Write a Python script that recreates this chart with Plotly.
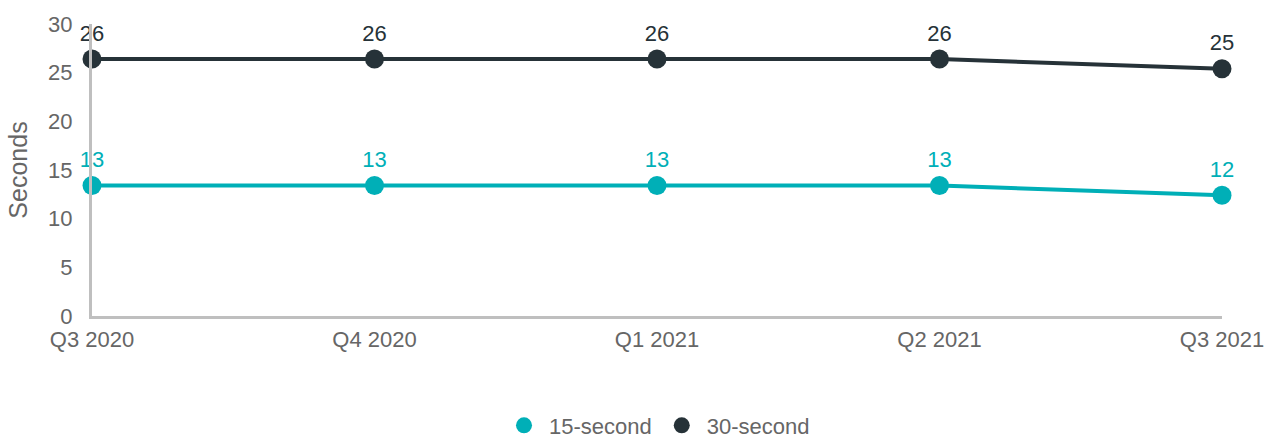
import plotly.graph_objects as go

quarters = ["Q3 2020", "Q4 2020", "Q1 2021", "Q2 2021", "Q3 2021"]
sec15 = [13.4, 13.4, 13.4, 13.4, 12.4]
sec30 = [26.4, 26.4, 26.4, 26.4, 25.4]
y_ticks = [0, 5, 10, 15, 20, 25, 30]

TEAL = "#00AFB7"
DARK = "#263238"
GREY = "#666666"
FONT = "Liberation Sans, Arial, sans-serif"

fig = go.Figure()

for name, vals, color in [("15-second", sec15, TEAL), ("30-second", sec30, DARK)]:
    fig.add_trace(go.Scatter(
        x=quarters, y=vals, name=name,
        mode="lines+markers+text",
        line=dict(color=color, width=4),
        marker=dict(color=color, size=19),
        texttemplate="%{y:.0f}",
        textposition="top center",
        textfont=dict(color=color, size=22, family=FONT),
        cliponaxis=False,
        showlegend=False,
        legendgroup=name,
    ))
    # legend entry drawn as a plain dot
    fig.add_trace(go.Scatter(
        x=[None], y=[None], name=name, mode="markers",
        marker=dict(color=color, size=26),
        showlegend=True, legendgroup=name,
    ))

fig.update_layout(
    width=1279, height=440,
    margin=dict(l=92, r=57, t=24, b=124, autoexpand=False),
    paper_bgcolor="white", plot_bgcolor="white",
    font=dict(family=FONT, size=22, color=GREY),
    legend=dict(orientation="h", x=0.5, xanchor="center", y=-0.375, yanchor="middle",
                font=dict(size=22, color=GREY), itemsizing="trace",
                itemwidth=40, tracegroupgap=0),
    xaxis=dict(
        type="category", range=[0, 4], showgrid=False, zeroline=False,
        showline=True, linecolor="#BFBFBF", linewidth=3,
        ticks="", tickfont=dict(size=22, color=GREY), ticklabelstandoff=2,
    ),
    yaxis=dict(
        range=[0, 30], tickvals=y_ticks, showgrid=False, zeroline=False,
        showline=True, linecolor="#BFBFBF", linewidth=3,
        ticks="", tickfont=dict(size=22, color=GREY), ticklabelstandoff=12,
        title=dict(text="Seconds", font=dict(size=25, color=GREY), standoff=14),
    ),
)

fig.write_html("out.html")
